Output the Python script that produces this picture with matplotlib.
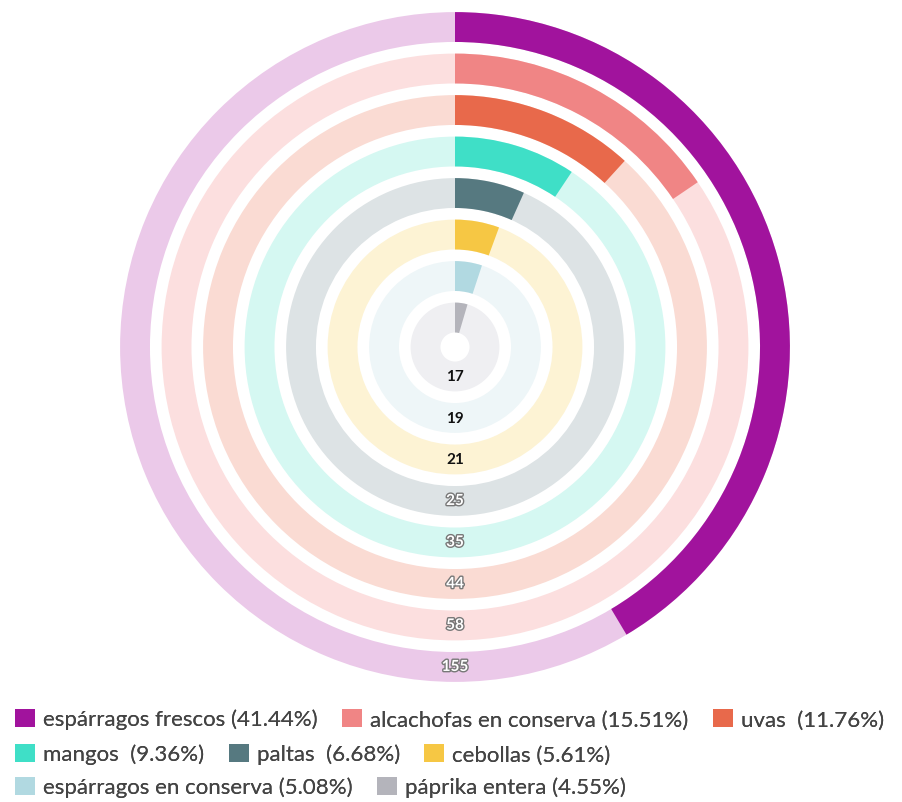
import numpy as np
import matplotlib
matplotlib.use("Agg")
import matplotlib.pyplot as plt
from matplotlib.patches import Patch
import matplotlib.patheffects as pe

categories = ["espárragos frescos", "alcachofas en conserva", "uvas", "mangos",
              "paltas", "cebollas", "espárragos en conserva", "páprika entera"]
values = [155, 58, 44, 35, 25, 21, 19, 17]
legend_labels = ["espárragos frescos (41.44%)", "alcachofas en conserva (15.51%)", "uvas  (11.76%)",
                 "mangos  (9.36%)", "paltas  (6.68%)", "cebollas (5.61%)",
                 "espárragos en conserva (5.08%)", "páprika entera (4.55%)"]
colors = ["#a1139d", "#f08585", "#e8694b", "#3fdfc7", "#567980", "#f6c744", "#b1d9e1", "#b4b4bb"]
track_colors = ["#ebc9e9", "#fcdfdf", "#fadbd3", "#d5f8f2", "#dde3e5", "#fdf3d4", "#eef6f8", "#efeff2"]
label_white = [True, True, True, True, True, False, False, False]
legend_rows = [3, 3, 2]

plt.rcParams['font.family'] = ['Lato', 'DejaVu Sans']

W, H = 902, 803
fig = plt.figure(figsize=(W / 100, H / 100), dpi=100)
cx, cy = 455, 348
R = 336
ax = fig.add_axes([(cx - R) / W, (H - cy - R) / H, 2 * R / W, 2 * R / H], projection='polar')
ax.set_theta_zero_location('N')
ax.set_theta_direction(-1)

n = len(values)
total = sum(values)
pos = np.arange(n, 0, -1) - 0.29
thick = 0.72
ax.barh(pos, [2 * np.pi] * n, left=0, height=thick, color=track_colors, edgecolor='none')
ax.barh(pos, [v / total * 2 * np.pi for v in values], left=0, height=thick, color=colors, edgecolor='none')

for p, v, w in zip(pos, values, label_white):
    if w:
        ax.text(np.pi, p, str(v), ha='center', va='center', fontsize=11, fontweight='bold',
                color='white', path_effects=[pe.withStroke(linewidth=2, foreground='#777777')])
    else:
        ax.text(np.pi, p, str(v), ha='center', va='center', fontsize=11, fontweight='bold',
                color='#111111')

ax.set_ylim(0, R / 41.5)
ax.set_xticks([])
ax.set_yticks([])
ax.grid(False)
ax.spines['polar'].set_visible(False)
ax.set_facecolor('none')

handles = [Patch(facecolor=c, edgecolor='none') for c in colors]
start = 0
row_y = [720, 755, 788]
fs = 16
for nr, yy in zip(legend_rows, row_y):
    hs = handles[start:start + nr]
    ls = legend_labels[start:start + nr]
    leg = fig.legend(hs, ls, loc='center left', bbox_to_anchor=(15 / W, 1 - yy / H), ncol=nr,
                     frameon=False, fontsize=fs, handlelength=0.9, handleheight=0.9,
                     handletextpad=0.36, columnspacing=1.1, labelcolor='#444444',
                     borderpad=0, borderaxespad=0)
    fig.add_artist(leg)
    start += nr

fig.savefig('out.png', dpi=100, facecolor='white')
